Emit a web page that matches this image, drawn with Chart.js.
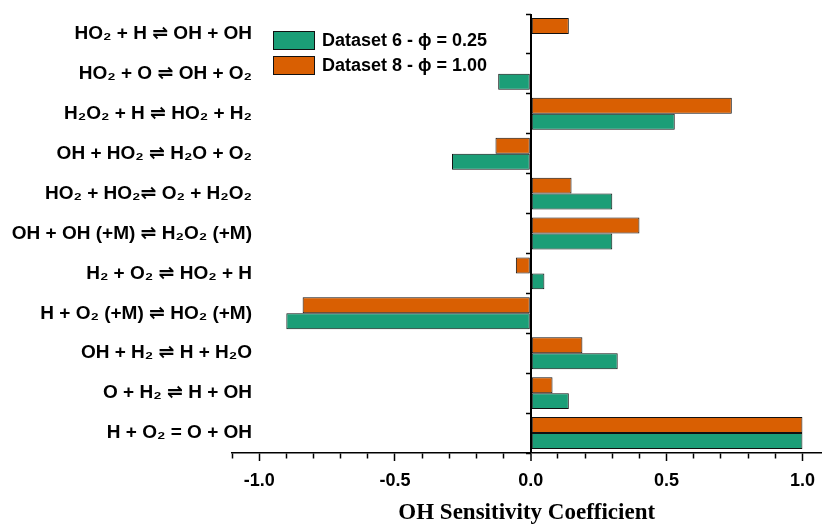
<!DOCTYPE html>
<html>
<head>
<meta charset="utf-8">
<script src="https://cdn.jsdelivr.net/npm/chart.js@4.4.1/dist/chart.umd.min.js"></script>
<style>
  html, body { margin: 0; padding: 0; background: #fff; }
  #wrap { position: relative; width: 824px; height: 525px; }
  #legend {
    position: absolute; left: 273px; top: 30px;
    font: bold 18px "Liberation Sans", Arial, "DejaVu Sans", sans-serif; color: #000;
  }
  .row { display: flex; align-items: center; height: 20px; margin-bottom: 5px; }
  .box { width: 42px; height: 19px; border: 1px solid #111; margin-right: 7px; box-sizing: border-box; }
</style>
</head>
<body>
<div id="wrap">
  <canvas id="chart" width="824" height="525"></canvas>
  <div id="legend"></div>
</div>
<script>
// ---------------- Data ----------------
const reactions = [
  "HO\u2082 + H \u21CC OH + OH",
  "HO\u2082 + O \u21CC OH + O\u2082",
  "H\u2082O\u2082 + H \u21CC HO\u2082 + H\u2082",
  "OH + HO\u2082 \u21CC H\u2082O + O\u2082",
  "HO\u2082 + HO\u2082\u21CC O\u2082 + H\u2082O\u2082",
  "OH + OH (+M) \u21CC H\u2082O\u2082 (+M)",
  "H\u2082 + O\u2082 \u21CC HO\u2082 + H",
  "H + O\u2082 (+M) \u21CC HO\u2082 (+M)",
  "OH + H\u2082 \u21CC H + H\u2082O",
  "O + H\u2082 \u21CC H + OH",
  "H + O\u2082 = O + OH"
];

// Dataset 6 - phi = 0.25 (green)
const dataset6 = [null, -0.12, 0.53, -0.29, 0.30, 0.30, 0.05, -0.90, 0.32, 0.14, 1.0];
// Dataset 8 - phi = 1.00 (orange)
const dataset8 = [0.14, null, 0.74, -0.13, 0.15, 0.40, -0.055, -0.84, 0.19, 0.08, 1.0];

const seriesNames = ["Dataset 6 - \u03D5 = 0.25", "Dataset 8 - \u03D5 = 1.00"];
const seriesColors = ["#1b9e77", "#d95f02"];

const xMin = -1.1, xMax = 1.07;
const xMinorStep = 0.1;   // minor tick spacing, labels every 0.5

// ---------------- Legend (html) ----------------
const legend = document.getElementById("legend");
seriesNames.forEach((name, i) => {
  const row = document.createElement("div");
  row.className = "row";
  row.innerHTML = `<span class="box" style="background:${seriesColors[i]}"></span><span>${name}</span>`;
  legend.appendChild(row);
});

// ---------------- Chart ----------------
const isMajor = v => Math.abs(v * 2 - Math.round(v * 2)) < 1e-9;
const sansFont = "'Liberation Sans', Arial, 'DejaVu Sans', sans-serif";

const ctx = document.getElementById("chart").getContext("2d");
new Chart(ctx, {
  type: "bar",
  data: {
    labels: reactions,
    datasets: [
      // orange first so it sits on top inside each category band
      { label: seriesNames[1], data: dataset8, backgroundColor: seriesColors[1] },
      { label: seriesNames[0], data: dataset6, backgroundColor: seriesColors[0] }
    ]
  },
  options: {
    indexAxis: "y",
    responsive: false,
    animation: false,
    devicePixelRatio: 1,
    layout: { padding: { left: 0, top: 14, right: 2, bottom: 0 } },
    datasets: {
      bar: {
        categoryPercentage: 0.8,
        barPercentage: 1.0,
        borderColor: "#111",
        borderWidth: 1,
        borderSkipped: false
      }
    },
    plugins: {
      legend: { display: false },
      tooltip: { enabled: false }
    },
    scales: {
      x: {
        type: "linear",
        min: xMin,
        max: xMax,
        afterBuildTicks: scale => {
          const ticks = [];
          for (let i = Math.round(xMin / xMinorStep); i * xMinorStep <= xMax + 1e-9; i++) {
            ticks.push({ value: i / 10 });
          }
          scale.ticks = ticks;
        },
        afterFit: scale => { scale.height = 72; },
        border: { display: true, color: "#000", width: 1.5 },
        grid: {
          drawOnChartArea: true,
          color: c => (c.tick && c.tick.value === 0 ? "#000" : "rgba(0,0,0,0)"),
          lineWidth: c => (c.tick && c.tick.value === 0 ? 2 : 1),
          tickColor: "#000",
          tickWidth: 1.5,
          tickLength: 8,
          tickBorderDash: c => (c.tick && isMajor(c.tick.value) ? [] : [5, 20])
        },
        ticks: {
          autoSkip: false,
          maxRotation: 0,
          padding: 9,
          color: "#000",
          font: { family: sansFont, size: 18, weight: "bold" },
          callback: v => (isMajor(v) ? v.toFixed(1) : "")
        },
        title: {
          display: true,
          text: "OH Sensitivity Coefficient",
          color: "#000",
          padding: { top: 0, bottom: -2 },
          font: { family: "'Liberation Serif', 'Times New Roman', serif", size: 23, weight: "bold" }
        }
      },
      y: {
        type: "category",
        afterFit: scale => {
          scale.width = 232;
          // labels run a little past the axis start, so don't clip them to the scale box
          scale._computeLabelArea = () => undefined;
        },
        border: { display: false },
        grid: { display: false, drawTicks: false },
        ticks: {
          autoSkip: false,
          padding: -20,
          color: "#000",
          font: { family: sansFont, size: 19, weight: "bold" }
        }
      },
      // small boundary ticks on the zero line
      yZero: {
        type: "category",
        labels: reactions,
        position: { x: 0 },
        offset: true,
        border: { display: false },
        grid: {
          offset: true,
          drawOnChartArea: false,
          tickLength: 5,
          tickColor: "#000",
          tickWidth: 1.5
        },
        ticks: { display: false }
      }
    }
  }
});
</script>
</body>
</html>
